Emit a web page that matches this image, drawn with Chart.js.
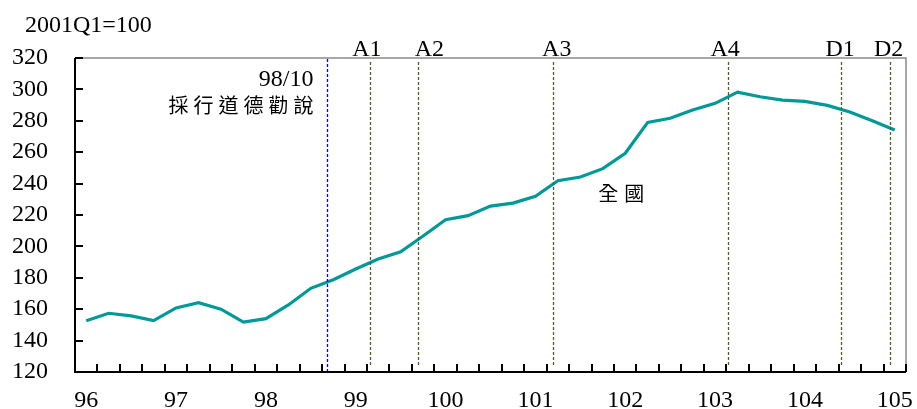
<!DOCTYPE html>
<html>
<head>
<meta charset="utf-8">
<script src="https://cdn.jsdelivr.net/npm/chart.js@4.4.0/dist/chart.umd.min.js"></script>
<style>
body { margin: 0; background: #fff; }
</style>
</head>
<body>
<canvas id="price-chart" width="917" height="409"></canvas>
<script>
const quarters = [
  '96Q1','96Q2','96Q3','96Q4','97Q1','97Q2','97Q3','97Q4',
  '98Q1','98Q2','98Q3','98Q4','99Q1','99Q2','99Q3','99Q4',
  '100Q1','100Q2','100Q3','100Q4','101Q1','101Q2','101Q3','101Q4',
  '102Q1','102Q2','102Q3','102Q4','103Q1','103Q2','103Q3','103Q4',
  '104Q1','104Q2','104Q3','104Q4','105Q1'
];
const yearLabels = ['96','97','98','99','100','101','102','103','104','105'];
const nationIndex = [
  152.7, 157.4, 155.7, 152.7, 160.8, 164.1, 160.0, 151.8,
  154.0, 162.7, 173.3, 178.8, 185.6, 192.0, 196.6, 206.6,
  217.0, 219.6, 225.7, 227.6, 231.9, 241.8, 244.2, 249.5,
  259.3, 279.0, 281.6, 286.9, 291.1, 298.3, 295.3, 293.2,
  292.4, 289.8, 285.6, 280.0, 274.1
];
// policy events, placed at fractional quarter positions
const eventNames = ['98/10', 'A1', 'A2', 'A3', 'A4', 'D1', 'D2'];
const eventPos = [10.74, 12.63, 14.79, 20.77, 28.58, 33.61, 35.77];

const serif = "'Liberation Serif', 'Times New Roman', serif";
const cjk = "'Noto Sans CJK TC', 'Noto Sans CJK SC', sans-serif";

const overlay = {
  id: 'overlay',
  afterDatasetsDraw(chart) {
    const { ctx, chartArea: a, scales: { x, y } } = chart;
    ctx.save();

    // event lines
    eventPos.forEach((p, i) => {
      const px = Math.round(x.getPixelForValue(p)) + 0.5;
      ctx.beginPath();
      ctx.setLineDash([3, 2]);
      ctx.lineWidth = 1.3;
      if (i === 0) {
        ctx.strokeStyle = '#0000ff';
        ctx.moveTo(px, a.top + 1);
        ctx.lineTo(px, a.bottom);
      } else {
        ctx.strokeStyle = '#4f6228';
        ctx.moveTo(px, a.top + 4);
        ctx.lineTo(px, a.bottom - 6);
      }
      ctx.stroke();
    });
    ctx.setLineDash([]);

    // frame
    ctx.strokeStyle = '#8c8c8c';
    ctx.lineWidth = 1.5;
    ctx.beginPath();
    ctx.moveTo(a.left, a.top);
    ctx.lineTo(a.right, a.top);
    ctx.lineTo(a.right, a.bottom);
    ctx.stroke();

    ctx.strokeStyle = '#000';
    ctx.lineWidth = 2;
    ctx.beginPath();
    ctx.moveTo(a.left, a.top);
    ctx.lineTo(a.left, a.bottom);
    ctx.lineTo(a.right, a.bottom);
    ctx.stroke();
    ctx.restore();
  },
  afterDraw(chart) {
    const { ctx, chartArea: a, scales: { x, y } } = chart;
    ctx.save();
    // inward tick marks
    ctx.fillStyle = '#000';
    for (let v = 120; v <= 320; v += 20) {
      const py = Math.round(y.getPixelForValue(v));
      ctx.fillRect(a.left, py - 1, 8, 2);
    }
    for (let i = 1; i <= quarters.length; i++) {
      const px = Math.round(x.getPixelForValue(i - 0.5));
      ctx.fillRect(px - 1, a.bottom - 8, 2, 8);
    }

    // texts
    ctx.font = '24px ' + serif;
    ctx.textBaseline = 'alphabetic';
    ctx.textAlign = 'left';
    ctx.fillText('2001Q1=100', 25, 32);

    const labelDx = [0, -3, 11, 4, -3, -1, -1];
    ctx.textAlign = 'center';
    eventNames.forEach((n, i) => {
      if (i === 0) return;
      ctx.fillText(n, x.getPixelForValue(eventPos[i]) + labelDx[i], a.top - 2);
    });

    const bx = x.getPixelForValue(eventPos[0]);
    ctx.textAlign = 'right';
    ctx.fillText(eventNames[0], bx - 14, 86);
    ctx.font = '20px ' + cjk;
    ctx.letterSpacing = '5px';
    ctx.fillText('採行道德勸說', bx - 9, 113);
    ctx.letterSpacing = '6px';
    ctx.textAlign = 'left';
    ctx.fillText('全國', x.getPixelForValue(22.8), y.getPixelForValue(229));
    ctx.restore();
  }
};

new Chart(document.getElementById('price-chart'), {
  type: 'line',
  data: {
    labels: quarters,
    datasets: [{
      label: '全國',
      data: nationIndex,
      borderColor: '#009999',
      borderWidth: 3.2,
      pointRadius: 0,
      tension: 0
    }]
  },
  options: {
    responsive: false,
    animation: false,
    layout: { padding: { top: 58, right: 11, left: 0, bottom: 0 } },
    plugins: { legend: { display: false }, tooltip: { enabled: false } },
    scales: {
      x: {
        offset: true,
        grid: { display: false, drawTicks: false },
        border: { display: false },
        afterFit: (s) => {
          s.height = 37;
          s.paddingLeft = 0; s.paddingRight = 0;
        },
        ticks: {
          autoSkip: false,
          maxRotation: 0,
          padding: 14,
          color: '#000',
          font: { family: serif, size: 24 },
          callback: (v, i) => (i % 4 === 0 ? yearLabels[i / 4] : '')
        }
      },
      y: {
        min: 120,
        max: 320,
        grid: { display: false, drawTicks: false },
        border: { display: false },
        afterFit: (s) => {
          s.width = 75;
          s.paddingTop = 0; s.paddingBottom = 0;
        },
        ticks: {
          stepSize: 20,
          autoSkip: false,
          padding: 27,
          color: '#000',
          font: { family: serif, size: 24 }
        }
      }
    }
  },
  plugins: [overlay]
});
</script>
</body>
</html>
